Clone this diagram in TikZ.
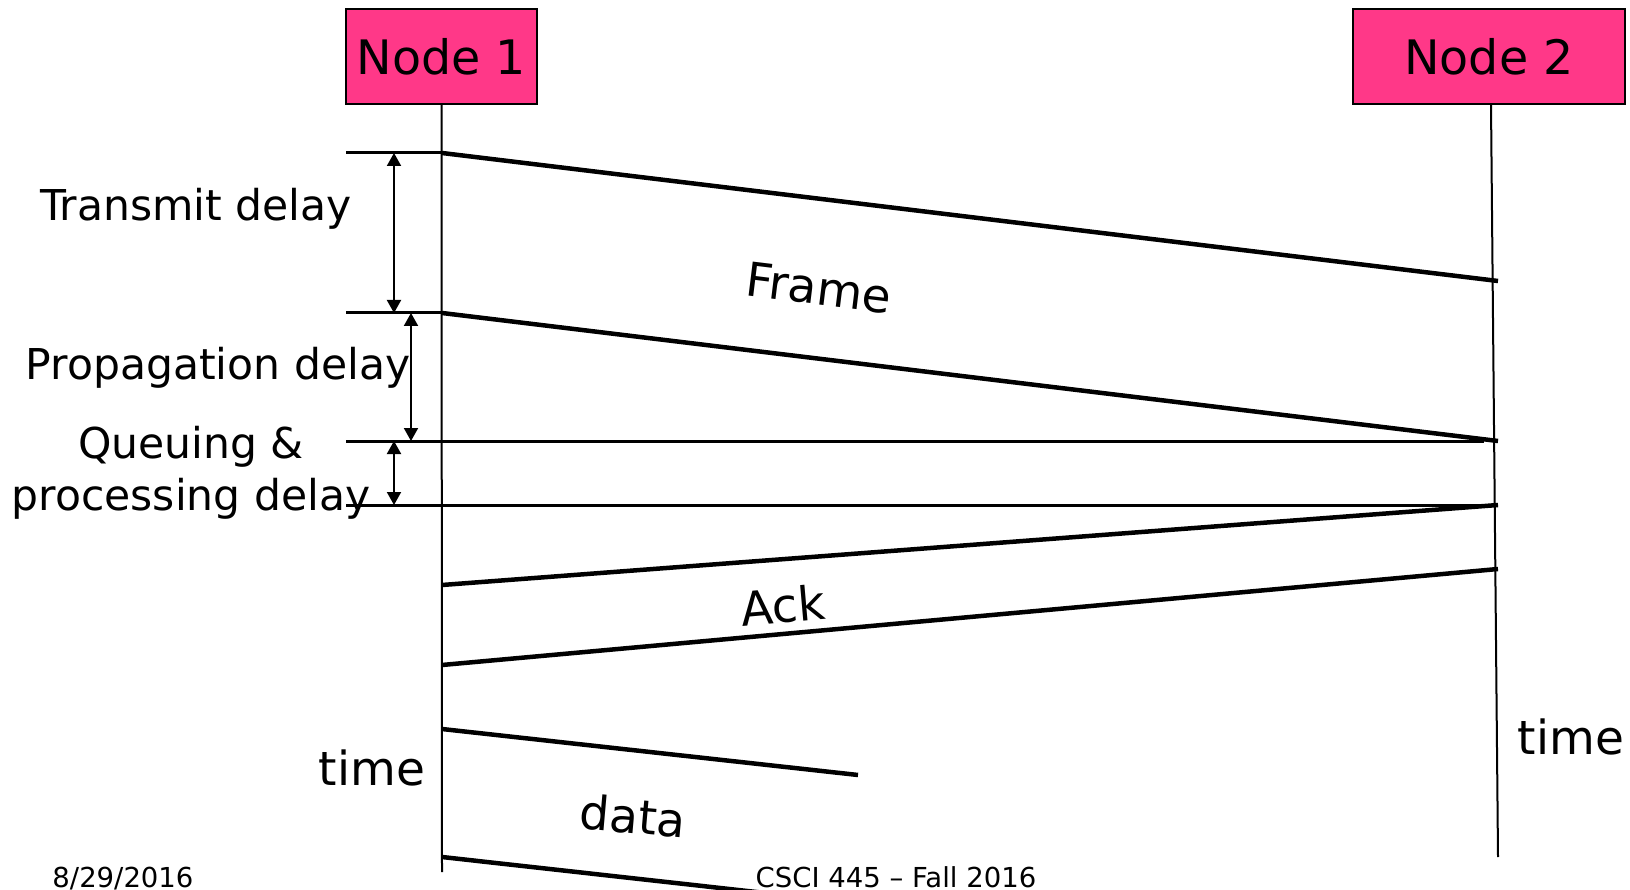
\documentclass[tikz,border=0pt]{standalone}
\usepackage{fontspec}
\setmainfont{DejaVu Sans}
\usetikzlibrary{arrows.meta}
\definecolor{nodepink}{RGB}{255,56,136}
\tikzset{
 nodebox/.style={draw=black, line width=2pt, fill=nodepink, inner sep=0pt, font=\fontsize{47.5}{52}\selectfont},
 lifeline/.style={line width=2pt},
 msg/.style={line width=4.5pt},
 tickline/.style={line width=3pt},
 dimarrow/.style={line width=2pt, {Triangle[length=13pt,width=14pt]}-{Triangle[length=13pt,width=14pt]}},
 biglabel/.style={font=\fontsize{47}{55}\selectfont, inner sep=0pt},
 delaylabel/.style={font=\fontsize{42.5}{52}\selectfont, inner sep=0pt, anchor=base},
 footer/.style={font=\fontsize{27.5}{30}\selectfont, inner sep=0pt, anchor=base},
}
\begin{document}
\begin{tikzpicture}[x=1pt,y=-1pt]
\useasboundingbox (0,0) rectangle (1630,890);
\clip (0,0) rectangle (1630,890);
% nodes
\node[nodebox, minimum width=191pt, minimum height=95pt] (n1) at (441.5,56.5) {Node 1};
\node[nodebox, minimum width=272pt, minimum height=95pt] (n2) at (1489,56.5) {Node 2};
% coordinates
\coordinate (l1end) at (442,872);
\coordinate (l2end) at (1498,857);
\coordinate (f1s) at (442,153); \coordinate (f1e) at (1498,281);
\coordinate (f2s) at (442,313); \coordinate (f2e) at (1498,441);
\coordinate (h1s) at (346,441); \coordinate (h1e) at (1484,441);
\coordinate (h2s) at (346,505); \coordinate (h2e) at (1484,505);
\coordinate (a1s) at (1498,505); \coordinate (a1e) at (442,585);
\coordinate (a2s) at (1498,569); \coordinate (a2e) at (442,665);
\coordinate (d1s) at (442,729); \coordinate (d1e) at (858,775);
\coordinate (d2s) at (442,857); \coordinate (d2e) at (900,908);
\coordinate (t1s) at (346,153); \coordinate (t2s) at (346,313);
\coordinate (tr1) at (394,153); \coordinate (tr2) at (394,313);
\coordinate (pr1) at (411,313); \coordinate (pr2) at (411,441);
\coordinate (qu1) at (394,441); \coordinate (qu2) at (394,505);
% lifelines
\draw[lifeline] (n1.south) -- (l1end);
\draw[lifeline] ([xshift=2pt]n2.south) -- (l2end);
% ticks and horizontal lines
\draw[tickline] (t1s) -- (f1s);
\draw[tickline] (t2s) -- (f2s);
\draw[tickline] (h1s) -- (h1e);
\draw[tickline] (h2s) -- (h2e);
% messages
\draw[msg] (f1s) -- (f1e);
\draw[msg] (f2s) -- (f2e);
\draw[msg] (a1s) -- (a1e);
\draw[msg] (a2s) -- (a2e);
\draw[msg] (d1s) -- (d1e);
\draw[msg] (d2s) -- (d2e);
% dimension arrows
\draw[dimarrow] (tr1) -- (tr2);
\draw[dimarrow] (pr1) -- (pr2);
\draw[dimarrow] (qu1) -- (qu2);
% labels
\node[delaylabel] (ltx) at (196,221) {Transmit delay};
\node[delaylabel] (lpr) at (218,380) {Propagation delay};
\node[delaylabel] (lqu) at (191,458) {Queuing \&};
\node[delaylabel] (lpc) at (191,510) {processing delay};
\node[biglabel, rotate=-7] (lframe) at (819,288) {Frame};
\node[biglabel, rotate=5] (lack) at (783,605) {Ack};
\node[biglabel, rotate=-5] (ldata) at (633,816) {data};
\node[biglabel, anchor=base] (ltime1) at (372,785) {time};
\node[biglabel, anchor=base] (ltime2) at (1571,754) {time};
\node[footer] (fdate) at (123,887) {8/29/2016};
\node[footer] (fcourse) at (896,887) {CSCI 445 – Fall 2016};
\end{tikzpicture}
\end{document}
